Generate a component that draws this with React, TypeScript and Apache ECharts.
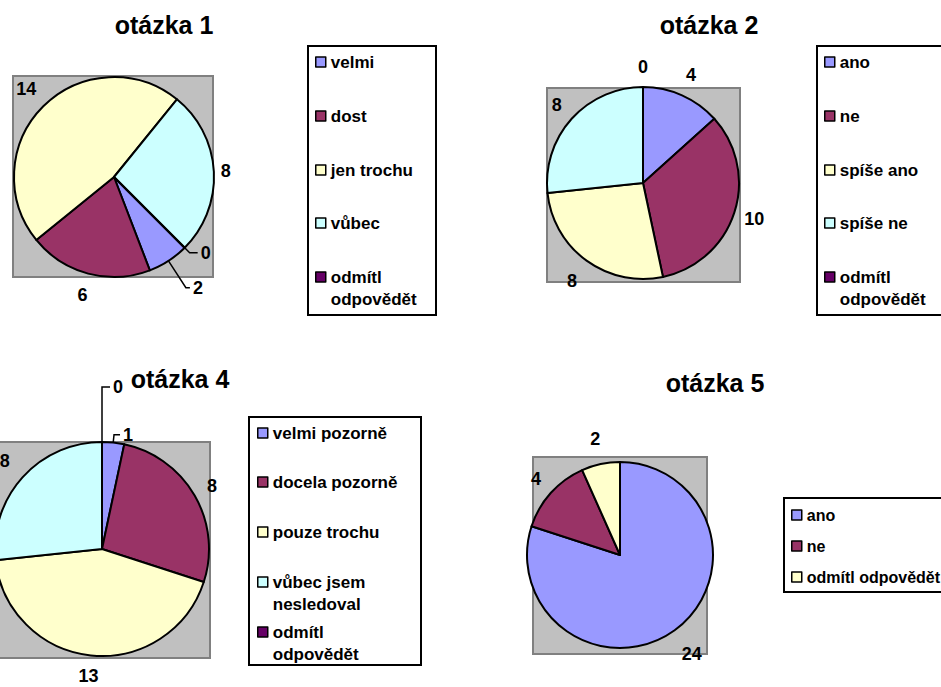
import React, { useEffect, useRef } from "react";
import * as echarts from "echarts";

const FONT = '"Liberation Sans", Arial, Helvetica, sans-serif';

// ---- data ----
const q1Categories = ["velmi", "dost", "jen trochu", "vůbec", "odmítl odpovědět"];
const q1Values = [2, 6, 14, 8, 0];

const q2Categories = ["ano", "ne", "spíše ano", "spíše ne", "odmítl odpovědět"];
const q2Values = [4, 10, 8, 8, 0];

const q4Categories = ["velmi pozorně", "docela pozorně", "pouze trochu", "vůbec jsem nesledoval", "odmítl odpovědět"];
const q4Values = [1, 8, 13, 8, 0];

const q5Categories = ["ano", "ne", "odmítl odpovědět"];
const q5Values = [24, 4, 2];

const titles = ["otázka 1", "otázka 2", "otázka 4", "otázka 5"];

const palette5 = ["#9999FF", "#993366", "#FFFFCC", "#CCFFFF", "#660066"];
const palette3 = ["#9999FF", "#993366", "#FFFFCC"];

// ---- label placement (style, not data): radial gap or leader line [length, length2] ----
type LabelPlace = { gap?: number; leader?: [number, number] };
const q1Labels: LabelPlace[] = [{ leader: [32, 4] }, { gap: 22 }, { gap: 24 }, { gap: 12 }, { leader: [7, 8] }];
const q2Labels: LabelPlace[] = [{ gap: 22 }, { gap: 21 }, { gap: 25 }, { gap: 20 }, { gap: 20 }];
const q4Labels: LabelPlace[] = [{ leader: [8, 6] }, { gap: 20 }, { gap: 21 }, { gap: 24 }, { leader: [55, 8] }];
const q5Labels: LabelPlace[] = [{ gap: 29 }, { gap: 20 }, { gap: 26 }];

const LEGEND_ICON_2LINE = "path://M0,0h10v10h-10zM0,32";

function buildData(cats: string[], vals: number[], colors: string[], places: LabelPlace[]) {
  return cats.map((name, i) => {
    const p = places[i];
    const item: any = { name, value: vals[i], itemStyle: { color: colors[i] } };
    if (p.leader) {
      item.labelLine = { show: true, length: p.leader[0], length2: p.leader[1] };
      item.label = { distanceToLabelLine: 3 };
    } else {
      item.labelLine = { show: false, length: p.gap, length2: 0 };
      item.label = { distanceToLabelLine: 0 };
    }
    return item;
  });
}

function pieSeries(id: string, center: number[], radius: number, startAngle: number, cats: string[], vals: number[], colors: string[], places: LabelPlace[]) {
  return {
    id,
    type: "pie",
    center,
    radius,
    startAngle,
    clockwise: true,
    avoidLabelOverlap: false,
    silent: true,
    itemStyle: { borderColor: "#000", borderWidth: 2 },
    label: {
      show: true,
      position: "outside",
      formatter: "{c}",
      color: "#000",
      fontFamily: FONT,
      fontWeight: "bold",
      fontSize: 18,
    },
    labelLine: { show: false, lineStyle: { color: "#000", width: 1.5 } },
    labelLayout: (params: any) => ({
      align: places[params.dataIndex] && places[params.dataIndex].leader ? "left" : "center",
      verticalAlign: "middle",
    }),
    emphasis: { disabled: true },
    data: buildData(cats, vals, colors, places),
  };
}

function legendName(name: string, wrap: boolean) {
  if (!wrap) return name;
  if (name === "odmítl odpovědět") return "odmítl\nodpovědět";
  if (name === "vůbec jsem nesledoval") return "vůbec jsem\nnesledoval";
  return name;
}

function legendItem(name: string, left: number, centerY: number, fontSize: number, wrap: boolean, color?: string) {
  const text = legendName(name, wrap);
  const multi = text.indexOf("\n") >= 0;
  return {
    show: true,
    data: [color ? { name, itemStyle: { color } } : name],
    left,
    top: centerY - 11,
    orient: "vertical",
    padding: 0,
    itemWidth: 10,
    itemHeight: multi ? 32 : 10,
    icon: multi ? LEGEND_ICON_2LINE : "rect",
    selectedMode: false,
    itemStyle: { borderColor: "#000", borderWidth: 1.5 },
    formatter: () => text,
    textStyle: {
      color: "#000",
      fontFamily: FONT,
      fontWeight: "bold",
      fontSize,
      lineHeight: 22,
    },
  };
}

export default function App() {
  const ref = useRef<HTMLDivElement>(null);

  useEffect(() => {
    document.body.style.margin = "0";
    if (!ref.current) return;
    const chart = echarts.init(ref.current, null, { renderer: "svg" });

    const lg1Y = [62, 116, 170, 223, 277];
    const lg4Y = [433, 482, 532, 582, 632];
    const lg5Y = [515, 546, 577];

    const legends: any[] = [];
    q1Categories.forEach((n, i) => legends.push(legendItem(n, 315, lg1Y[i], 17, true)));
    q2Categories.forEach((n, i) => legends.push(legendItem(n, 824, lg1Y[i], 17, true)));
    q4Categories.forEach((n, i) => legends.push(legendItem(n, 257, lg4Y[i], 17, true)));
    q5Categories.forEach((n, i) => legends.push(legendItem(n, 791, lg5Y[i], 16, false, palette3[i])));

    const titleStyle = { color: "#000", fontFamily: FONT, fontWeight: "bold", fontSize: 25 };
    const titleCfg = [
      { x: 164, y: 12 },
      { x: 709, y: 12 },
      { x: 180, y: 366 },
      { x: 715, y: 370 },
    ];

    const frame = (x: number, y: number, w: number, h: number) => ({
      type: "rect",
      shape: { x, y, width: w, height: h },
      style: { fill: "#C0C0C0", stroke: "#808080", lineWidth: 2 },
      z: -10,
      silent: true,
    });
    const box = (x: number, y: number, w: number, h: number) => ({
      type: "rect",
      shape: { x, y, width: w, height: h },
      style: { fill: "#FFFFFF", stroke: "#000000", lineWidth: 2 },
      z: -10,
      silent: true,
    });

    chart.setOption({
      animation: false,
      backgroundColor: "#FFFFFF",
      title: titles.map((t, i) => ({
        text: t,
        left: titleCfg[i].x,
        top: titleCfg[i].y,
        textAlign: "center",
        padding: 0,
        textStyle: titleStyle,
      })),
      legend: legends,
      graphic: [
        frame(13, 76, 200, 201),
        frame(547, 88, 193, 194),
        frame(-4, 442, 214, 216),
        frame(533, 457, 174, 197),
        box(308, 46, 128, 269),
        box(817, 46, 140, 269),
        box(249, 417, 172, 248),
        box(784, 498, 170, 94),
      ],
      series: [
        pieSeries("q1", [114, 177], 100, -45, q1Categories, q1Values, palette5, q1Labels),
        pieSeries("q2", [643, 183], 96, 89.9999, q2Categories, q2Values, palette5, q2Labels),
        pieSeries("q4", [102, 549], 107, 89.9999, q4Categories, q4Values, palette5, q4Labels),
        pieSeries("q5", [620, 555], 93, 90, q5Categories, q5Values, palette3, q5Labels),
      ],
    });

    return () => chart.dispose();
  }, []);

  return <div ref={ref} style={{ width: 941, height: 687 }} />;
}
